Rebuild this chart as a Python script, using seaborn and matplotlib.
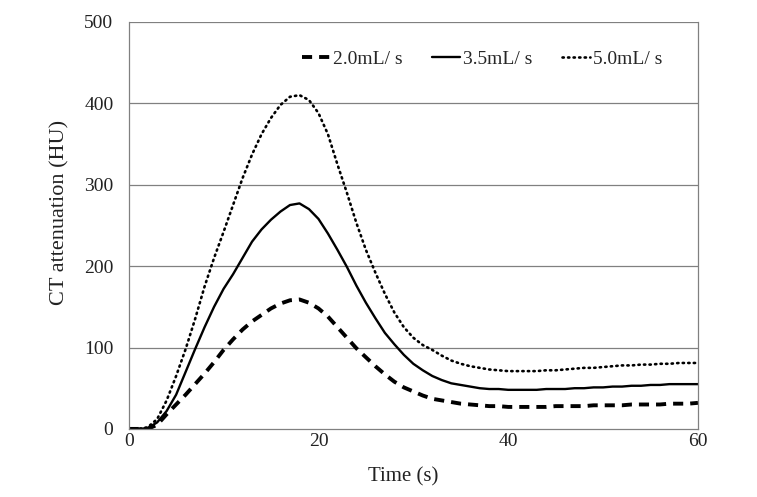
import matplotlib
import numpy as np
import pandas as pd
import seaborn as sns
from matplotlib import pyplot as plt

matplotlib.use('Agg')

# time axis (s)
time_s = list(range(0, 61))

# CT attenuation (HU) per injection rate
rate_20 = [0, 0, 0, 5, 18, 30, 42, 55, 68, 82, 97, 110, 122, 132, 140, 148, 154, 158, 159, 155,
           148, 138, 125, 112, 99, 88, 77, 67, 58, 51, 46, 41, 37, 35, 33, 31, 30, 29, 28, 28,
           27, 27, 27, 27, 27, 28, 28, 28, 28, 29, 29, 29, 29, 30, 30, 30, 30, 31, 31, 31, 32]
rate_35 = [0, 0, 1, 8, 22, 42, 70, 98, 125, 150, 172, 190, 210, 230, 245, 257, 267, 275, 277, 270,
           258, 240, 220, 199, 176, 155, 136, 118, 104, 91, 80, 72, 65, 60, 56, 54, 52, 50, 49, 49,
           48, 48, 48, 48, 49, 49, 49, 50, 50, 51, 51, 52, 52, 53, 53, 54, 54, 55, 55, 55, 55]
rate_50 = [0, 0, 2, 12, 35, 65, 98, 135, 175, 210, 242, 275, 308, 337, 362, 382, 398, 408, 410, 404,
           388, 362, 325, 290, 253, 220, 192, 166, 143, 125, 112, 103, 97, 90, 84, 80, 77, 75, 73, 72,
           71, 71, 71, 71, 72, 72, 73, 74, 75, 75, 76, 77, 78, 78, 79, 79, 80, 80, 81, 81, 81]

labels = ["2.0mL/ s", "3.5mL/ s", "5.0mL/ s"]

sns.set_style("white")
plt.rcParams['font.family'] = ['Liberation Serif', 'DejaVu Serif']

fig = plt.figure(figsize=(7.57, 4.97), dpi=100)
ax = fig.add_axes([0.170, 0.137, 0.752, 0.819])

for ys in [100, 200, 300, 400, 500]:
    ax.axhline(ys, color="#808080", lw=0.9, zorder=0)

sns.lineplot(x=time_s, y=rate_20, ax=ax, color="black", lw=2.8, label=labels[0],
             linestyle=(0, (2.6, 1.8)))
sns.lineplot(x=time_s, y=rate_35, ax=ax, color="black", lw=1.7, label=labels[1])
sns.lineplot(x=time_s, y=rate_50, ax=ax, color="black", lw=1.9, label=labels[2],
             linestyle=(0, (0.5, 1.6)), dash_capstyle="round")

ax.set_xlim(0, 60)
ax.set_ylim(0, 500)
ax.set_xticks([0, 20, 40, 60])
ax.set_yticks([0, 100, 200, 300, 400, 500])
ax.tick_params(axis="both", labelsize=14, colors="#222222", length=0)
ax.tick_params(axis="x", pad=3)
ax.tick_params(axis="y", pad=11)

ax.set_xlabel("Time (s)", fontsize=15, color="#222222")
ax.set_ylabel("CT attenuation (HU)", fontsize=16, color="#222222")
ax.xaxis.set_label_coords(0.482, -0.118)
ax.xaxis.label.set_verticalalignment("center")
ax.yaxis.set_label_coords(-0.121, 0.531)
ax.yaxis.label.set_verticalalignment("center")

for side in ["right", "left", "bottom"]:
    ax.spines[side].set_visible(True)
    ax.spines[side].set_color("#808080")
    ax.spines[side].set_linewidth(0.9)
ax.spines["top"].set_visible(False)

ax.legend(loc="center right", bbox_to_anchor=(0.937, 0.909), ncol=3, frameon=False,
          fontsize=14, handlelength=1.45, handletextpad=0.15, columnspacing=1.5,
          borderpad=0, borderaxespad=0)

fig.savefig("out.png", dpi=100)
